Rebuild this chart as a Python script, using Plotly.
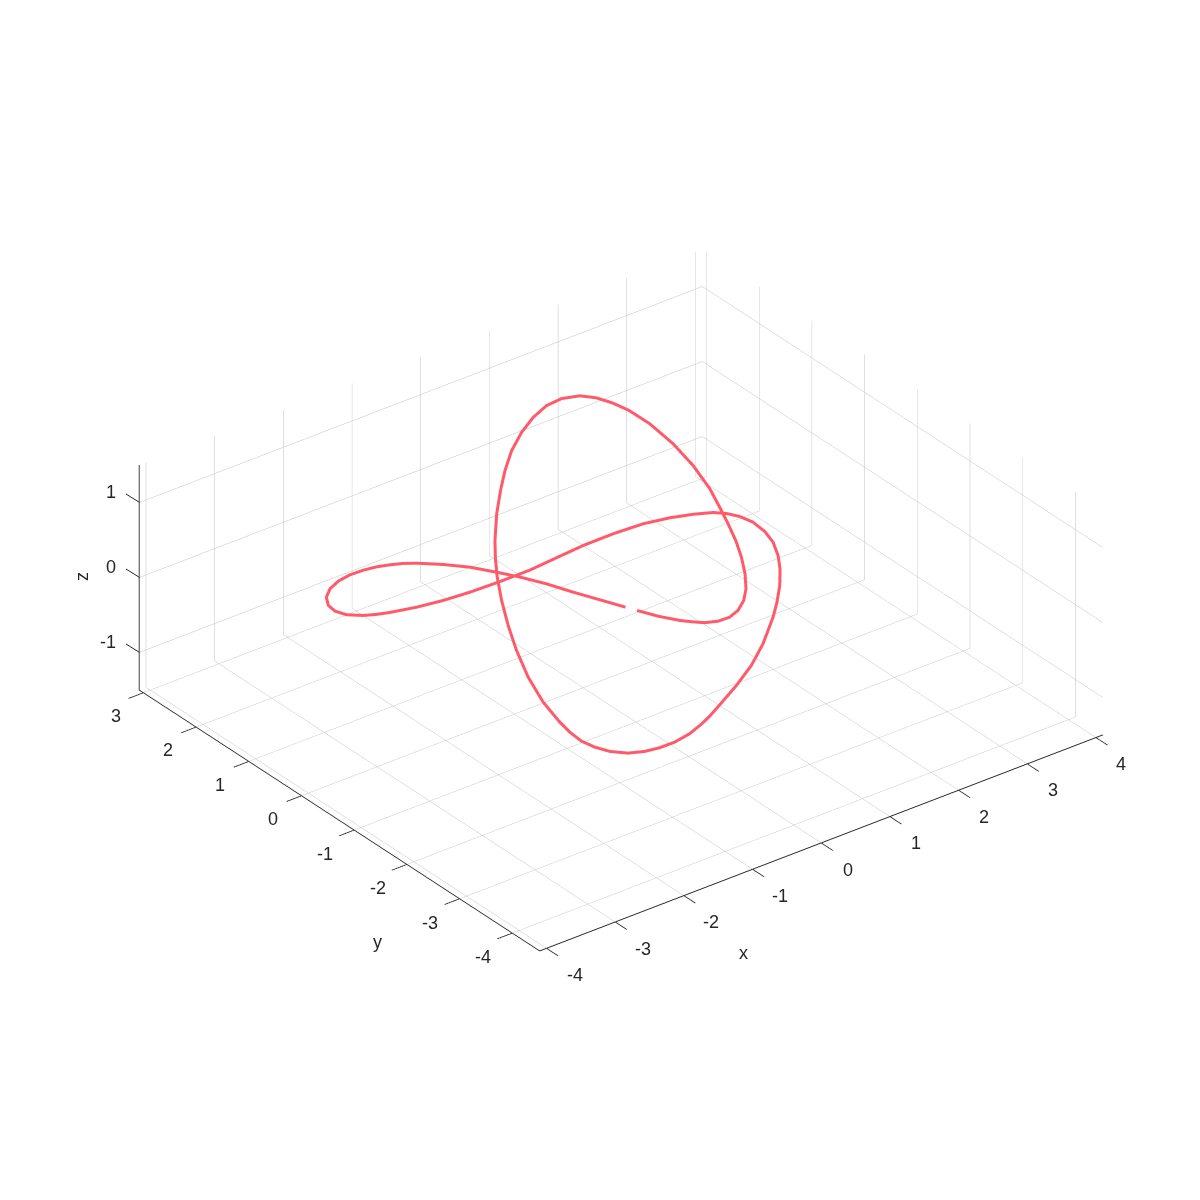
import plotly.graph_objects as go

x_values = [-0.060,-0.191,-0.328,-0.455,-0.604,-0.741,-0.923,-1.129,-1.355,-1.484,-1.622,-1.772,-1.942,-2.129,-2.326,-2.509,-2.661,-2.759,-2.778,-2.722,-2.582,-2.449,-2.293,-1.974,-1.636,-1.274,-0.875,-0.657,-0.414,-0.049,0.420,0.860,1.275,1.604,1.867,2.075,2.184,
            2.284,2.368,2.387,2.365,2.276,2.171,2.007,1.821,1.637,1.266,0.960,0.647,0.295,0.085,-0.060,-0.271,-0.494,-0.690,-0.868,-1.035,-1.189,-1.287,-1.356,-1.379,-1.372,-1.359,-1.282,-1.161,-1.023,-0.890,-0.729,-0.588,-0.445,-0.222,0.004,0.199,0.415,0.669,0.892,1.094,1.267,1.441,1.576,1.684,1.770,1.846,1.884,1.888,1.851,1.773,1.705,1.604,1.495,1.358,1.198,1.044,0.872,0.723,0.570,0.438,0.342,0.251,0.112,0.000]
y_values = [-0.883,-0.567,-0.240,0.099,0.411,0.650,0.944,1.181,1.392,1.483,1.550,1.607,1.639,1.648,1.613,1.532,1.404,1.238,1.087,0.939,0.811,0.738,0.677,0.586,0.522,0.486,0.470,0.469,0.469,0.503,0.545,0.549,0.521,0.443,0.344,0.236,0.123,
            0.003,-0.141,-0.338,-0.524,-0.734,-0.909,-1.117,-1.307,-1.472,-1.765,-1.943,-2.067,-2.209,-2.292,-2.324,-2.376,-2.383,-2.353,-2.302,-2.202,-2.056,-1.899,-1.737,-1.545,-1.346,-1.014,-0.629,-0.251,0.088,0.386,0.679,0.897,1.092,1.350,1.569,1.741,1.895,2.037,2.106,2.117,2.057,1.937,1.796,1.622,1.431,1.138,0.745,0.372,0.006,-0.298,-0.530,-0.807,-1.057,-1.304,-1.531,-1.688,-1.803,-1.840,-1.818,-1.738,-1.616,-1.508,-1.277,-1.025]
z_values = [0]*37 + [-0.02,-0.06,-0.10,-0.15,-0.20,-0.26,-0.33,-0.40,-0.46,-0.55,-0.65,-0.75,-0.82,-0.86,-0.90,-0.93,-0.96,-0.98,-0.99,-1.00,-0.99,-0.97,-0.94,-0.90,-0.86,-0.75,-0.62,-0.48,-0.35,-0.20,-0.08,0.02,0.12,0.28,0.42,0.53,0.65,0.74,0.83,0.91,0.97,1.00,0.99,0.96,0.92,0.85,0.75,0.63,0.50,0.40,0.33,0.27,0.20,0.14,0.10,0.07,0.05,0.03,0.02,0.01,0,0,0,0]

x_ticks = [-4,-3,-2,-1,0,1,2,3,4]
y_ticks = [-4,-3,-2,-1,0,1,2,3]
z_ticks = [-1,0,1]
x_limits = [-4.1,4.1]
y_limits = [-4.52,3.08]
z_limits = [-1.5,1.5]

FONT = "Liberation Sans"
INK = "#262626"
GRID = "#c0c0c0"
W = 1200
PAGE = 8  # the page's own body margin

def axis(limits, ticks, tick_style="outside"):
    return dict(
        range=limits, tickmode="array", tickvals=ticks, showticklabels=False,
        title=dict(text=""), showgrid=True, gridcolor=GRID, gridwidth=1, zeroline=False,
        showbackground=False, showspikes=False, showline=True, linecolor=INK, linewidth=2,
        ticks=tick_style, ticklen=19, tickwidth=2, tickcolor=INK,
    )

def label(text, px, py, anchor="center", angle=0):
    return dict(text=text, x=(px-PAGE)/W, y=1-(py-PAGE)/W, xref="paper", yref="paper", showarrow=False,
                xanchor=anchor, yanchor="middle", textangle=angle,
                font=dict(family=FONT, size=18, color=INK))

def z_tick(t):
    py = 577.3 - 75*t
    return dict(type="line", xref="paper", yref="paper",
                x0=(139.3-PAGE)/W, y0=1-(py-PAGE)/W, x1=(126-PAGE)/W, y1=1-(py-8.3-PAGE)/W,
                line=dict(color=INK, width=1))

notes = [label("x", 743, 953), label("y", 377, 942), label("z", 82, 577, angle=-90)]
notes += [label(str(t), 847.8 + 68.3*t, 869.5 - 26.4*t) for t in x_ticks]
notes += [label(str(t), 272.9 - 52.4*t, 819.2 - 34.5*t) for t in y_ticks]
notes += [label(str(t), 118, 566.7 - 75*t, anchor="right") for t in z_ticks]

fig = go.Figure(go.Scatter3d(
    x=x_values, y=y_values, z=z_values, mode="lines",
    line=dict(color="#FF5A6A", width=6), hoverinfo="skip", showlegend=False,
))

R = 1.73
S = 1.199
fig.update_layout(
    width=W, height=W, margin=dict(l=0, r=0, t=0, b=0, autoexpand=False),
    paper_bgcolor="white", showlegend=False,
    scene=dict(
        xaxis=axis(x_limits, x_ticks), yaxis=axis(y_limits, y_ticks), zaxis=axis(z_limits, z_ticks, ""),
        aspectmode="manual", aspectratio=dict(x=S, y=S*7.6/8.2, z=S*3/8.2),
        domain=dict(x=[0.0217, 1], y=[0.0135, 1]),
        camera=dict(projection=dict(type="orthographic"), up=dict(x=0, y=0, z=1),
                    center=dict(x=0, y=0, z=0),
                    eye=dict(x=-0.5272*R, y=-0.6871*R, z=0.5*R)),
    ),
    annotations=notes,
    shapes=[z_tick(t) for t in z_ticks],
)
fig.write_html("out.html")
